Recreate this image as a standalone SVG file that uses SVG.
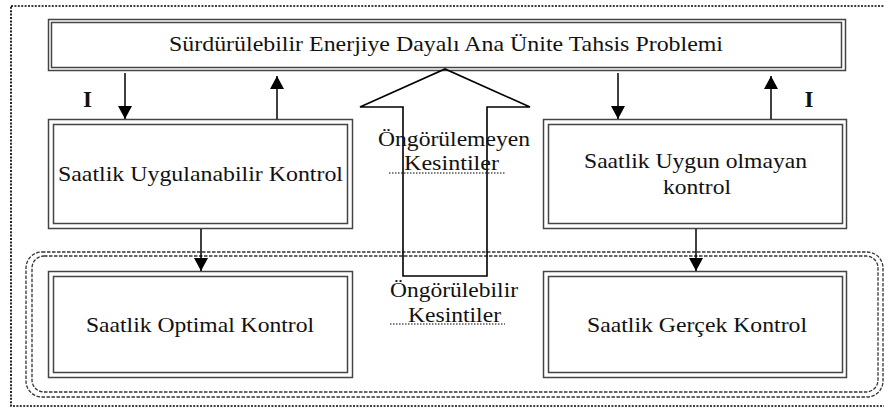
<svg xmlns="http://www.w3.org/2000/svg" width="884" height="408" viewBox="0 0 884 408">
  <style>
    .frame { fill: none; stroke: #000; stroke-width: 1.7; stroke-dasharray: 2 1.4; }
    .zone { fill: none; stroke: #333; stroke-width: 1.3; stroke-dasharray: 3.5 1.5; }
    .box { fill: none; stroke: #444; stroke-width: 1.5; }
    .lbl { font-family: "Liberation Serif", "Times New Roman", serif; font-size: 22px; fill: #111; }
    .mark { font-family: "Liberation Serif", "Times New Roman", serif; font-size: 23px; font-weight: bold; fill: #111; }
    .link { fill: none; stroke: #000; stroke-width: 1.5; }
    .bigarrow { fill: none; stroke: #000; stroke-width: 1.6; stroke-linejoin: miter; }
    .uline { fill: none; stroke: #000; stroke-width: 1.2; stroke-dasharray: 1.5 1.5; }
  </style>
  <defs>
    <marker id="head" viewBox="0 0 13 14" refX="13" refY="7" markerWidth="13" markerHeight="14" markerUnits="userSpaceOnUse" orient="auto">
      <path d="M0,0 L13,7 L0,14 Z" fill="#000"/>
    </marker>
  </defs>

  <rect width="884" height="408" fill="#fff"/>

  <!-- outer dotted frame (right side runs past the edge) -->
  <rect class="frame" x="11" y="6" width="890" height="400"/>

  <!-- double dashed zone around the lower row -->
  <g id="lower-zone">
    <rect class="zone" x="26" y="252" width="857" height="145" rx="16" ry="16"/>
    <rect class="zone" x="32" y="256" width="846" height="136" rx="12" ry="12"/>
  </g>

  <g id="problem">
    <rect class="box" x="48.5" y="19.5" width="797" height="51"/>
    <rect class="box" x="51.5" y="22.5" width="790" height="45"/>
    <text class="lbl" x="169" y="51" textLength="554" lengthAdjust="spacingAndGlyphs">Sürdürülebilir Enerjiye Dayalı Ana Ünite Tahsis Problemi</text>
  </g>

  <g id="feasible">
    <rect class="box" x="48.5" y="119.5" width="304" height="109"/>
    <rect class="box" x="53.5" y="124.5" width="294" height="99"/>
    <text class="lbl" x="58" y="181" textLength="285" lengthAdjust="spacingAndGlyphs">Saatlik Uygulanabilir Kontrol</text>
  </g>

  <g id="infeasible">
    <rect class="box" x="543.5" y="119.5" width="303" height="109"/>
    <rect class="box" x="548.5" y="124.5" width="294" height="99"/>
    <text class="lbl" x="584" y="168" textLength="223" lengthAdjust="spacingAndGlyphs">Saatlik Uygun olmayan</text>
    <text class="lbl" x="663" y="194" textLength="68" lengthAdjust="spacingAndGlyphs">kontrol</text>
  </g>

  <g id="optimal">
    <rect class="box" x="48.5" y="271.5" width="304" height="106"/>
    <rect class="box" x="53.5" y="276.5" width="294" height="96"/>
    <text class="lbl" x="86" y="332" textLength="228" lengthAdjust="spacingAndGlyphs">Saatlik Optimal Kontrol</text>
  </g>

  <g id="actual">
    <rect class="box" x="543.5" y="271.5" width="303" height="106"/>
    <rect class="box" x="548.5" y="276.5" width="294" height="96"/>
    <text class="lbl" x="587" y="332" textLength="220" lengthAdjust="spacingAndGlyphs">Saatlik Gerçek Kontrol</text>
  </g>

  <g id="outages">
    <polygon class="bigarrow" points="403,276 403,107 360,107 445,69 530,107 487,107 487,276"/>
    <text class="lbl" x="378" y="146" textLength="152" lengthAdjust="spacingAndGlyphs">Öngörülemeyen</text>
    <text class="lbl" x="404" y="170" textLength="95" lengthAdjust="spacingAndGlyphs">Kesintiler</text>
    <line class="uline" x1="389" y1="173" x2="505" y2="173"/>
    <text class="lbl" x="390" y="297" textLength="128" lengthAdjust="spacingAndGlyphs">Öngörülebilir</text>
    <text class="lbl" x="408" y="322" textLength="93" lengthAdjust="spacingAndGlyphs">Kesintiler</text>
    <line class="uline" x1="390" y1="324" x2="505" y2="324"/>
  </g>

  <g id="connectors">
    <line class="link" x1="125" y1="73" x2="125" y2="119" marker-end="url(#head)"/>
    <line class="link" x1="277" y1="119" x2="277" y2="76" marker-end="url(#head)"/>
    <line class="link" x1="618" y1="73" x2="618" y2="119" marker-end="url(#head)"/>
    <line class="link" x1="771" y1="119" x2="771" y2="76" marker-end="url(#head)"/>
    <line class="link" x1="201" y1="229" x2="201" y2="271" marker-end="url(#head)"/>
    <line class="link" x1="696" y1="229" x2="696" y2="271" marker-end="url(#head)"/>
    <text class="mark" x="87.5" y="107" text-anchor="middle">I</text>
    <text class="mark" x="809" y="107" text-anchor="middle">I</text>
  </g>
</svg>
